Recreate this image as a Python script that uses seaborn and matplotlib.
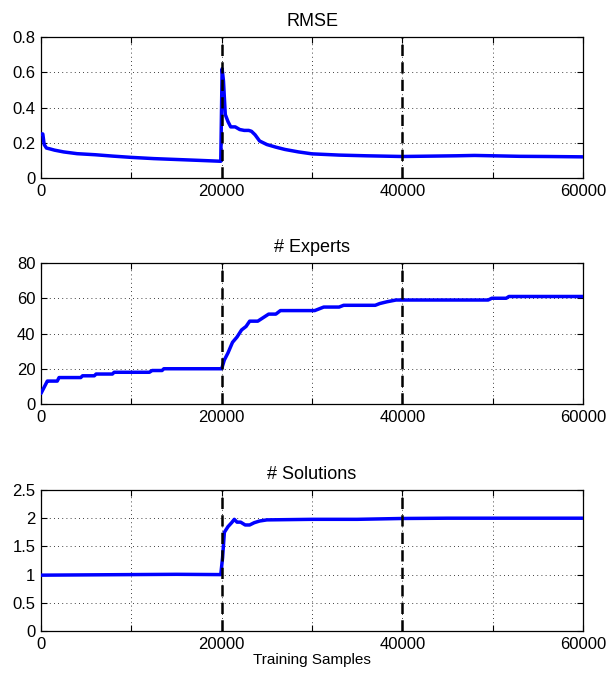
import matplotlib
matplotlib.use("Agg")
import matplotlib.pyplot as plt
import seaborn as sns
import pandas as pd

# ---- data ----
rmse_x = [0, 200, 350, 600, 1000, 1500, 2500, 4000, 6000, 8000, 10000, 12500, 15000, 17500, 19900,
          20050, 20200, 20400, 20700, 21000, 21500, 22000, 22500, 23000, 23300, 23700, 24200, 25000,
          26000, 27000, 28500, 30000, 33000, 36000, 40000, 43000, 46000, 48000, 50000, 53000, 56000, 60000]
rmse_y = [0.25, 0.25, 0.19, 0.17, 0.165, 0.158, 0.148, 0.138, 0.132, 0.124, 0.117, 0.110, 0.105, 0.100, 0.095,
          0.62, 0.55, 0.36, 0.32, 0.29, 0.29, 0.275, 0.27, 0.27, 0.265, 0.245, 0.21, 0.19,
          0.175, 0.162, 0.148, 0.137, 0.13, 0.126, 0.122, 0.124, 0.126, 0.128, 0.126, 0.123, 0.122, 0.120]

exp_x = [0, 300, 700, 900, 1800, 2000, 4400, 4600, 5900, 6100, 7900, 8100, 12000, 12300, 13400, 13600,
         20000, 20300, 20700, 21200, 21700, 22200, 22700, 23100, 24000, 24600, 25200, 26000, 26500,
         30300, 30800, 31300, 33000, 33500, 37000, 37500, 38300, 39300, 40000, 49500, 49900, 51500, 51800, 60000]
exp_y = [6, 9, 13, 13, 13, 15, 15, 16, 16, 17, 17, 18, 18, 19, 19, 20,
         20, 25, 29, 35, 38, 42, 44, 47, 47, 49, 51, 51, 53,
         53, 54, 55, 55, 56, 56, 57, 58, 59, 59, 59, 60, 60, 61, 61]

sol_x = [0, 5000, 10000, 15000, 19900, 20100, 20300, 20700, 21100, 21400, 21700, 22100, 22600, 23100,
         23600, 24200, 25000, 30000, 35000, 40000, 45000, 50000, 55000, 60000]
sol_y = [0.99, 0.995, 1.0, 1.005, 1.0, 1.3, 1.75, 1.85, 1.92, 1.98, 1.93, 1.93, 1.88, 1.88,
         1.92, 1.95, 1.97, 1.98, 1.98, 1.995, 2.0, 2.0, 2.0, 2.0]

titles = ["RMSE", "# Experts", "# Solutions"]
xlabel = "Training Samples"
change_points = [20000, 40000]
x_ticks = [0, 10000, 20000, 30000, 40000, 50000, 60000]
x_ticklabels = ["0", "", "20000", "", "40000", "", "60000"]
y_ticks = [[0, 0.2, 0.4, 0.6, 0.8], [0, 20, 40, 60, 80], [0, 0.5, 1, 1.5, 2, 2.5]]
y_ticklabels = [["0", "0.2", "0.4", "0.6", "0.8"], ["0", "20", "40", "60", "80"],
                ["0", "0.5", "1", "1.5", "2", "2.5"]]

series = [(rmse_x, rmse_y), (exp_x, exp_y), (sol_x, sol_y)]

# ---- style ----
sns.set_style("white")
plt.rcParams['font.family'] = ['Liberation Sans', 'DejaVu Sans']
plt.rcParams['text.color'] = 'black'

fig = plt.figure(figsize=(6.15, 6.77), dpi=100)
left, width, height = 41 / 615, (583 - 41) / 615, 141 / 677
bottoms = [1 - 178 / 677, 1 - 404 / 677, 1 - 631 / 677]

for i, ((xs, ys), title) in enumerate(zip(series, titles)):
    ax = fig.add_axes([left, bottoms[i], width, height])
    df = pd.DataFrame({"x": xs, "y": ys})
    sns.lineplot(data=df, x="x", y="y", ax=ax, color="#0000ff", linewidth=2.5,
                 sort=False, estimator=None, zorder=3)
    for cp in change_points:
        ax.axvline(cp, color="black", linestyle=(0, (4.5, 2.5)), linewidth=1.8, zorder=4)
    ax.set_xlim(0, 60000)
    ax.set_ylim(y_ticks[i][0], y_ticks[i][-1])
    ax.set_xticks(x_ticks)
    ax.set_xticklabels(x_ticklabels)
    ax.set_yticks(y_ticks[i])
    ax.set_yticklabels(y_ticklabels[i])
    ax.grid(True, color="black", linestyle=(0, (1, 4)), linewidth=0.6)
    ax.tick_params(direction="in", length=4, width=0.8, labelsize=12, top=True, right=True,
                   bottom=True, left=True, pad=4, colors="black", labelcolor="black")
    for s in ax.spines.values():
        s.set_color("black")
        s.set_linewidth(0.9)
    ax.set_title(title, fontsize=13, pad=8, color="black")
    ax.set_ylabel("")
    ax.set_xlabel(xlabel if i == 2 else "", fontsize=11, labelpad=1, color="black")

fig.savefig("out.png", dpi=100)
